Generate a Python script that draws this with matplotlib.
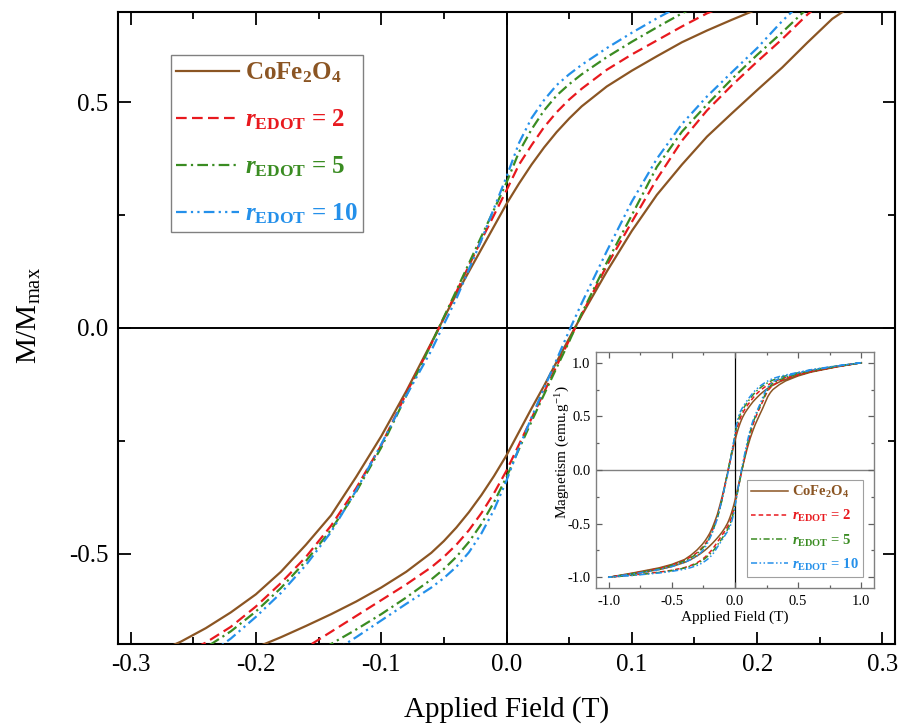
import matplotlib
matplotlib.use('Agg')
import matplotlib.pyplot as plt
from matplotlib.ticker import MultipleLocator, FormatStrFormatter

plt.rcParams['font.family'] = ['Liberation Serif', 'DejaVu Serif']
plt.rcParams['mathtext.fontset'] = 'custom'
plt.rcParams['mathtext.rm'] = 'Liberation Serif'
plt.rcParams['mathtext.it'] = 'Liberation Serif:italic:bold'
plt.rcParams['mathtext.bf'] = 'Liberation Serif:bold'
plt.rcParams['axes.unicode_minus'] = False

# ---------------- data (field in T, normalised magnetisation) ----------------
field = [-1.0, -0.8, -0.6, -0.5, -0.4, -0.35, -0.30, -0.28, -0.26, -0.24, -0.22, -0.20,
         -0.18, -0.16, -0.14, -0.12, -0.10, -0.08, -0.06, -0.05, -0.04, -0.03, -0.02, -0.01,
         0.0, 0.01, 0.02, 0.03, 0.04, 0.05, 0.06, 0.08, 0.10, 0.12, 0.14, 0.16, 0.18, 0.20,
         0.22, 0.24, 0.26, 0.28, 0.30, 0.35, 0.4, 0.5, 0.6, 0.8, 1.0]

# descending-field branch (upper branch)
cofe_down = [-1.0, -0.958, -0.912, -0.88, -0.835, -0.795, -0.745, -0.72, -0.695, -0.665, -0.630, -0.590,
             -0.540, -0.480, -0.415, -0.330, -0.240, -0.140, -0.033, 0.022, 0.075, 0.125, 0.175, 0.225,
             0.275, 0.320, 0.362, 0.400, 0.434, 0.464, 0.491, 0.535, 0.570, 0.602, 0.633, 0.659, 0.683, 0.706,
             0.726, 0.745, 0.762, 0.777, 0.790, 0.820, 0.845, 0.885, 0.918, 0.963, 1.0]
r2_down = [-1.0, -0.962, -0.918, -0.886, -0.842, -0.81, -0.77, -0.748, -0.724, -0.697, -0.662, -0.617,
           -0.565, -0.507, -0.438, -0.355, -0.26, -0.145, -0.035, 0.022, 0.08, 0.138, 0.195, 0.25,
           0.305, 0.362, 0.405, 0.445, 0.478, 0.506, 0.530, 0.572, 0.606, 0.637, 0.668, 0.697, 0.72, 0.741,
           0.760, 0.777, 0.792, 0.806, 0.818, 0.843, 0.863, 0.897, 0.926, 0.966, 1.0]
r5_down = [-1.0, -0.964, -0.922, -0.89, -0.848, -0.818, -0.78, -0.758, -0.733, -0.708, -0.672, -0.628,
           -0.576, -0.516, -0.447, -0.363, -0.265, -0.150, -0.035, 0.024, 0.083, 0.143, 0.203, 0.262,
           0.322, 0.39, 0.44, 0.482, 0.515, 0.540, 0.562, 0.600, 0.634, 0.666, 0.697, 0.724, 0.746, 0.766,
           0.784, 0.800, 0.814, 0.827, 0.838, 0.86, 0.878, 0.907, 0.932, 0.968, 1.0]
r10_down = [-1.0, -0.968, -0.928, -0.90, -0.862, -0.835, -0.80, -0.78, -0.757, -0.728, -0.688, -0.640,
            -0.587, -0.525, -0.452, -0.360, -0.258, -0.150, -0.050, 0.008, 0.065, 0.13, 0.195, 0.265,
            0.335, 0.41, 0.465, 0.505, 0.538, 0.562, 0.583, 0.620, 0.654, 0.686, 0.716, 0.742, 0.764, 0.784,
            0.801, 0.816, 0.830, 0.842, 0.853, 0.871, 0.886, 0.91, 0.935, 0.97, 1.0]

# ascending-field branch (lower branch)
cofe_up = [-1.0, -0.968, -0.928, -0.90, -0.862, -0.835, -0.80, -0.785, -0.768, -0.75, -0.73, -0.708,
           -0.685, -0.66, -0.634, -0.606, -0.575, -0.54, -0.498, -0.472, -0.442, -0.408, -0.37, -0.328,
           -0.282, -0.230, -0.178, -0.128, -0.075, -0.023, 0.028, 0.125, 0.215, 0.295, 0.362, 0.424, 0.476, 0.527,
           0.577, 0.632, 0.685, 0.722, 0.750, 0.795, 0.83, 0.877, 0.912, 0.96, 1.0]
r2_up = [-1.0, -0.978, -0.952, -0.935, -0.91, -0.89, -0.864, -0.85, -0.833, -0.815, -0.793, -0.768,
         -0.74, -0.708, -0.673, -0.638, -0.603, -0.568, -0.53, -0.507, -0.48, -0.448, -0.41, -0.366,
         -0.316, -0.258, -0.200, -0.142, -0.084, -0.027, 0.030, 0.138, 0.235, 0.330, 0.415, 0.482, 0.538, 0.590,
         0.640, 0.694, 0.740, 0.767, 0.79, 0.827, 0.852, 0.888, 0.918, 0.962, 1.0]
r5_up = [-1.0, -0.98, -0.955, -0.938, -0.914, -0.895, -0.872, -0.86, -0.845, -0.828, -0.808, -0.786,
         -0.762, -0.735, -0.70, -0.668, -0.634, -0.597, -0.557, -0.534, -0.507, -0.474, -0.434, -0.386,
         -0.330, -0.268, -0.207, -0.147, -0.088, -0.030, 0.032, 0.145, 0.25, 0.357, 0.435, 0.495, 0.552, 0.605,
         0.655, 0.708, 0.752, 0.785, 0.808, 0.84, 0.862, 0.897, 0.926, 0.966, 1.0]
r10_up = [-1.0, -0.982, -0.96, -0.945, -0.925, -0.91, -0.89, -0.88, -0.867, -0.852, -0.835, -0.814,
          -0.79, -0.758, -0.72, -0.685, -0.648, -0.611, -0.575, -0.554, -0.529, -0.497, -0.455, -0.403,
          -0.338, -0.265, -0.198, -0.133, -0.07, -0.006, 0.055, 0.17, 0.28, 0.375, 0.452, 0.513, 0.567, 0.62,
          0.68, 0.733, 0.772, 0.80, 0.823, 0.853, 0.874, 0.905, 0.93, 0.968, 1.0]

labels = ['CoFe$_{\\mathregular{2}}$O$_{\\mathregular{4}}$',
          '$\\mathit{r}_{\\mathregular{EDOT}}$ = 2',
          '$\\mathit{r}_{\\mathregular{EDOT}}$ = 5',
          '$\\mathit{r}_{\\mathregular{EDOT}}$ = 10']
down_branches = [cofe_down, r2_down, r5_down, r10_down]
up_branches = [cofe_up, r2_up, r5_up, r10_up]
colors = ['#8B5523', '#E8191E', '#3A8C22', '#2490EA']
styles_main = ['-', (0, (4.8, 2.4)), (0, (4.8, 1.9, 1.0, 1.9)), (0, (4.8, 1.9, 1.0, 1.9, 1.0, 1.9))]
styles_inset = ['-', (0, (3.0, 2.0)), (0, (4.0, 1.6, 1.0, 1.6)), (0, (4.0, 1.6, 1.0, 1.6, 1.0, 1.6))]

W, H = 904, 725
fig = plt.figure(figsize=(W / 100, H / 100), dpi=100)

# ---------------- main axes ----------------
ax = fig.add_axes([118 / W, 1 - 644 / H, 777 / W, 632 / H])
ax.axhline(0, color='k', lw=1.4, zorder=1)
ax.axvline(0, color='k', lw=1.4, zorder=1)
for dn, up, c, ls, lab in zip(down_branches, up_branches, colors, styles_main, labels):
    hx = field[::-1] + field
    my = dn[::-1] + up
    ax.plot(hx, my, color=c, lw=1.6, linestyle=ls, label=lab, zorder=3)

ax.set_xlim(-0.31, 0.31)
ax.set_ylim(-0.7, 0.7)
ax.xaxis.set_major_locator(MultipleLocator(0.1))
ax.xaxis.set_minor_locator(MultipleLocator(0.05))
ax.yaxis.set_major_locator(MultipleLocator(0.5))
ax.yaxis.set_minor_locator(MultipleLocator(0.25))
ax.xaxis.set_major_formatter(FormatStrFormatter('%.1f'))
ax.yaxis.set_major_formatter(FormatStrFormatter('%.1f'))
ax.tick_params(which='both', direction='in', top=True, right=True, width=1.3, labelsize=18)
ax.tick_params(axis='x', which='major', length=9, pad=7)
ax.tick_params(axis='y', which='major', length=9, pad=7)
ax.tick_params(which='minor', length=5)
for s in ax.spines.values():
    s.set_linewidth(1.5)
ax.set_xlabel('Applied Field (T)', fontsize=21)
ax.set_ylabel('M/M$_{\\mathregular{max}}$', fontsize=21)
ax.xaxis.set_label_coords(0.5, -0.082)
ax.yaxis.set_label_coords(-0.096, 0.52)

leg = ax.legend(loc='upper left', bbox_to_anchor=(171 / W, 1 - 55 / H), bbox_transform=fig.transFigure,
                prop={'family': 'Liberation Serif', 'weight': 'bold', 'size': 18},
                labelcolor='linecolor', frameon=True, fancybox=False, edgecolor='#808080',
                framealpha=1, borderpad=0.22, handlelength=2.5, handletextpad=0.25,
                labelspacing=0.9, borderaxespad=0)
leg.get_frame().set_linewidth(1.0)

# ---------------- inset ----------------
axi = fig.add_axes([596 / W, 1 - 588 / H, 278 / W, 236 / H])
axi.axhline(0, color='#808080', lw=1.0, zorder=1)
axi.axvline(0, color='k', lw=0.9, zorder=1)
for dn, up, c, ls, lab in zip(down_branches, up_branches, colors, styles_inset, labels):
    hx = field[::-1] + field
    my = dn[::-1] + up
    axi.plot(hx, my, color=c, lw=1.1, linestyle=ls, label=lab, zorder=3)
axi.set_xlim(-1.1, 1.1)
axi.set_ylim(-1.1, 1.1)
axi.xaxis.set_major_locator(MultipleLocator(0.5))
axi.xaxis.set_minor_locator(MultipleLocator(0.25))
axi.yaxis.set_major_locator(MultipleLocator(0.5))
axi.yaxis.set_minor_locator(MultipleLocator(0.25))
axi.xaxis.set_major_formatter(FormatStrFormatter('%.1f'))
axi.yaxis.set_major_formatter(FormatStrFormatter('%.1f'))
axi.tick_params(which='both', direction='in', top=True, right=True, width=0.9,
                color='#606060', labelsize=10.5)
axi.tick_params(axis='x', which='major', length=4, pad=5)
axi.tick_params(axis='y', which='major', length=4, pad=4)
axi.tick_params(which='minor', length=2)
for s in axi.spines.values():
    s.set_linewidth(1.0)
    s.set_color('#808080')
axi.set_xlabel('Applied Field (T)', fontsize=11)
axi.set_ylabel('Magnetism (emu.g$^{\\mathregular{-1}}$)', fontsize=11)
axi.xaxis.set_label_coords(0.5, -0.095)
axi.yaxis.set_label_coords(-0.085, 0.576)

legi = axi.legend(loc='lower right', bbox_to_anchor=(863 / W, 1 - 577 / H), bbox_transform=fig.transFigure,
                  prop={'family': 'Liberation Serif', 'weight': 'bold', 'size': 10.5},
                  labelcolor='linecolor', frameon=True, fancybox=False, edgecolor='#a0a0a0',
                  framealpha=1, borderpad=0.3, handlelength=2.5, handletextpad=0.3,
                  labelspacing=0.55, borderaxespad=0)
legi.get_frame().set_linewidth(0.8)

fig.savefig('out.png', dpi=100)
